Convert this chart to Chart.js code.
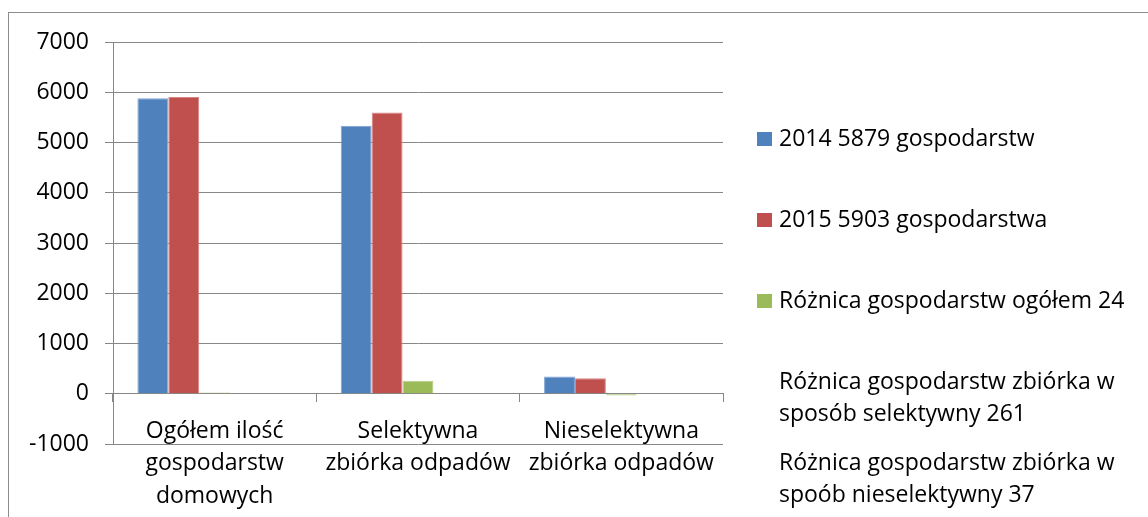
<!DOCTYPE html>
<html>
<head>
<meta charset="utf-8">
<script src="https://cdn.jsdelivr.net/npm/chart.js@4/dist/chart.umd.min.js"></script>
<style>
body { margin: 0; background: #fff; }
#frame { position: absolute; left: 8px; top: 12px; width: 1200px; height: 600px; border: 1px solid #8c8c8c; }
#wrap { position: absolute; left: 0; top: 0; width: 1148px; height: 517px; }
</style>
</head>
<body>
<div id="frame"></div>
<div id="wrap"><canvas id="myChart"></canvas></div>
<script>
var categories = [
    ["Ogółem ilość", "gospodarstw", "domowych"],
    ["Selektywna", "zbiórka odpadów"],
    ["Nieselektywna", "zbiórka odpadów"]
];

var seriesNames = [
    "2014 5879 gospodarstw",
    "2015 5903 gospodarstwa",
    "Różnica gospodarstw ogółem 24",
    "Różnica gospodarstw zbiórka w sposób selektywny 261",
    "Różnica gospodarstw zbiórka w spoób nieselektywny 37"
];

var values2014 = [5879, 5335, 345];
var values2015 = [5903, 5596, 308];
var diffTotal = [24, 261, -37];
var diffSelective = [null, null, null];
var diffNonSelective = [null, null, null];

var yMin = -1000;
var yMax = 7000;
var yStep = 1000;

var colors = ['#4F81BD', '#C0504D', '#9BBB59', 'rgba(0,0,0,0)', 'rgba(0,0,0,0)'];
var borders = ['#7FA3D1', '#D98683', '#B7D08A', 'rgba(0,0,0,0)', 'rgba(0,0,0,0)'];

var FONT = '"Open Sans", "DejaVu Sans", sans-serif';
var FSIZE = 23;
var gridColor = '#878787';

Chart.defaults.font.family = FONT;
Chart.defaults.font.size = FSIZE;
Chart.defaults.color = '#000';

// legend drawn at the right, with wrapping like the original
var sideLegend = {
    id: 'sideLegend',
    afterDraw: function(chart) {
        var ctx = chart.ctx;
        var area = chart.chartArea;
        var boxX = area.right + 34;
        var textX = area.right + 56;
        var maxW = chart.width - textX - 2;
        var lineH = 32;
        ctx.save();
        ctx.font = FSIZE + 'px ' + FONT;
        ctx.textBaseline = 'middle';
        ctx.textAlign = 'left';
        chart.data.datasets.forEach(function(ds, i) {
            var y = area.top + 97 + i * 81;
            if (ds.backgroundColor !== 'rgba(0,0,0,0)') {
                ctx.fillStyle = ds.backgroundColor;
                ctx.fillRect(boxX, y - 7, 15, 14);
            }
            var words = ds.label.split(' ');
            var lines = [];
            var cur = '';
            words.forEach(function(w) {
                var t = cur ? cur + ' ' + w : w;
                if (cur && ctx.measureText(t).width > maxW) {
                    lines.push(cur);
                    cur = w;
                } else {
                    cur = t;
                }
            });
            lines.push(cur);
            ctx.fillStyle = '#000';
            lines.forEach(function(l, j) {
                ctx.fillText(l, textX, y + j * lineH);
            });
        });
        ctx.restore();
    }
};

var allValues = [values2014, values2015, diffTotal, diffSelective, diffNonSelective];
var datasets = [];
for (var i = 0; i < seriesNames.length; i++) {
    datasets.push({
        label: seriesNames[i],
        data: allValues[i],
        backgroundColor: colors[i],
        borderColor: borders[i],
        borderWidth: 1,
        borderSkipped: 'bottom'
    });
}

new Chart(document.getElementById('myChart'), {
    type: 'bar',
    data: {
        labels: categories,
        datasets: datasets
    },
    options: {
        responsive: true,
        maintainAspectRatio: false,
        animation: false,
        layout: {
            padding: { top: 42, right: 425, bottom: 73, left: 0 }
        },
        plugins: {
            legend: { display: false },
            tooltip: { enabled: false }
        },
        datasets: {
            bar: { categoryPercentage: 0.76, barPercentage: 1 }
        },
        scales: {
            x: {
                position: { y: 0 },
                grid: {
                    offset: true,
                    drawOnChartArea: false,
                    drawTicks: true,
                    tickLength: 8,
                    color: gridColor
                },
                border: { display: true, color: gridColor, width: 1 },
                ticks: {
                    padding: 13,
                    maxRotation: 0,
                    autoSkip: false,
                    font: { size: FSIZE, lineHeight: 1.42 }
                }
            },
            y: {
                min: yMin,
                max: yMax,
                afterFit: function(s) { s.width = 113; },
                grid: {
                    color: gridColor,
                    tickLength: 8,
                    drawTicks: true
                },
                border: { display: true, color: gridColor, width: 1 },
                ticks: {
                    stepSize: yStep,
                    padding: 16,
                    font: { size: FSIZE },
                    callback: function(v) { return String(v); }
                }
            }
        }
    },
    plugins: [sideLegend]
});
</script>
</body>
</html>
